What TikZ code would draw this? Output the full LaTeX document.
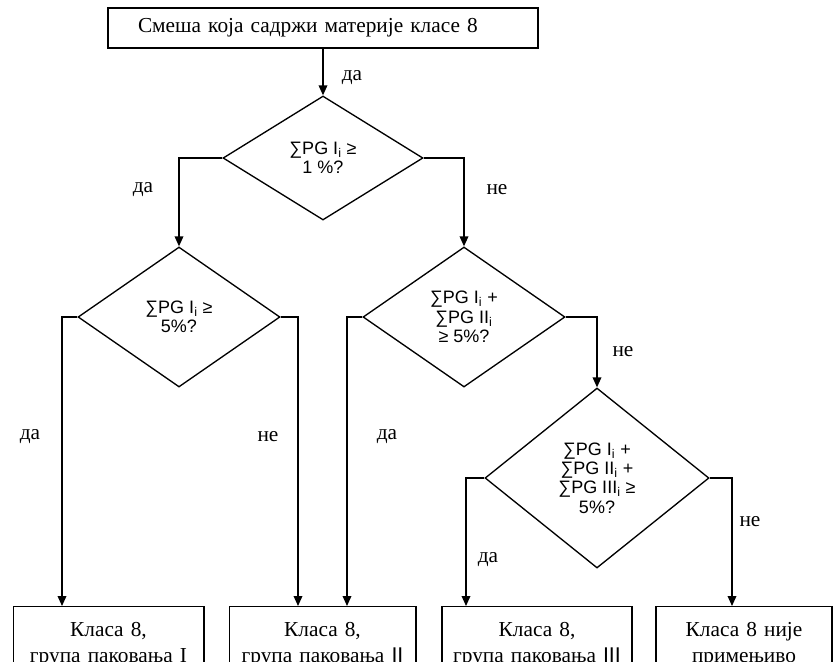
\documentclass[tikz,border=0pt]{standalone}
\usepackage{fontspec}
\setmainfont{Liberation Serif}
\setsansfont{Liberation Sans}
\usepackage{tikz}
\usetikzlibrary{shapes.geometric}
\usetikzlibrary{arrows.meta}

\begin{document}
\begin{tikzpicture}[x=0.75pt, y=-0.75pt, line width=1pt,
  box/.style={draw, rectangle, inner xsep=4pt, inner ysep=12pt, align=center,
              font=\fontsize{16}{19}\selectfont},
  test/.style={draw, diamond, inner sep=0pt, align=center,
               font=\sffamily\fontsize{13.5}{14.5}\selectfont},
  arr/.style={-{Triangle[length=7.5pt,width=6.5pt]}},
  ans/.style={font=\fontsize{16}{19}\selectfont}]

\clip (0,0) rectangle (837,661);

\draw (323, 28)
  node[box, minimum width=322.5pt, minimum height=30pt, inner ysep=0pt,
       inner xsep=22.5pt, text width=277.5pt, align=left] (start)
  {Смеша која садржи материје класе 8};

\draw (323, 158)
  node[test, minimum width=150pt, minimum height=93pt] (d1)
  {∑PG I\textsubscript{i} ≥\\1 \%?};
\draw (179, 317)
  node[test, minimum width=151.5pt, minimum height=105pt] (d2)
  {∑PG I\textsubscript{i} ≥\\5\%?};
\draw (464, 317)
  node[test, minimum width=151.5pt, minimum height=105pt] (d3)
  {∑PG I\textsubscript{i} +\\∑PG II\textsubscript{i}\\≥ 5\%?};
\draw (597, 478)
  node[test, minimum width=168pt, minimum height=135pt] (d4)
  {∑PG I\textsubscript{i} +\\∑PG II\textsubscript{i} +\\∑PG III\textsubscript{i} ≥\\5\%?};

\draw (108.5, 606) node[box, anchor=north, text width=135pt] (b1)
  {Класа 8,\\група паковања I};
\draw (322.5, 606) node[box, anchor=north, text width=132pt] (b2)
  {Класа 8,\\група паковања {\sffamily II}};
\draw (537, 606) node[box, anchor=north, text width=134.5pt] (b3)
  {Класа 8,\\група паковања {\sffamily III}};
\draw (744, 606) node[box, anchor=north, text width=124pt] (b4)
  {Класа 8 није\\примењиво};

\coordinate (k1) at (62, 0);
\coordinate (k2) at (298, 0);
\coordinate (k3) at (347, 0);
\coordinate (k4) at (466, 0);
\coordinate (k5) at (732, 0);

\draw[arr] (start.south) -- (d1.north);
\draw[arr] (d1.west) -| (d2.north);
\draw[arr] (d1.east) -| (d3.north);
\draw[arr] (d2.west) -| (k1 |- b1.north);
\draw[arr] (d2.east) -| (k2 |- b2.north);
\draw[arr] (d3.west) -| (k3 |- b2.north);
\draw[arr] (d3.east) -| (d4.north);
\draw[arr] (d4.west) -| (k4 |- b3.north);
\draw[arr] (d4.east) -| (k5 |- b4.north);

\draw (352, 78) node[ans] (a1) {да};
\draw (143, 190) node[ans] (a2) {да};
\draw (497, 190) node[ans] (a3) {не};
\draw (30, 437) node[ans] (a4) {да};
\draw (268, 437) node[ans] (a5) {не};
\draw (387, 437) node[ans] (a6) {да};
\draw (623, 352) node[ans] (a7) {не};
\draw (488, 560) node[ans] (a8) {да};
\draw (750, 522) node[ans] (a9) {не};
\end{tikzpicture}
\end{document}
